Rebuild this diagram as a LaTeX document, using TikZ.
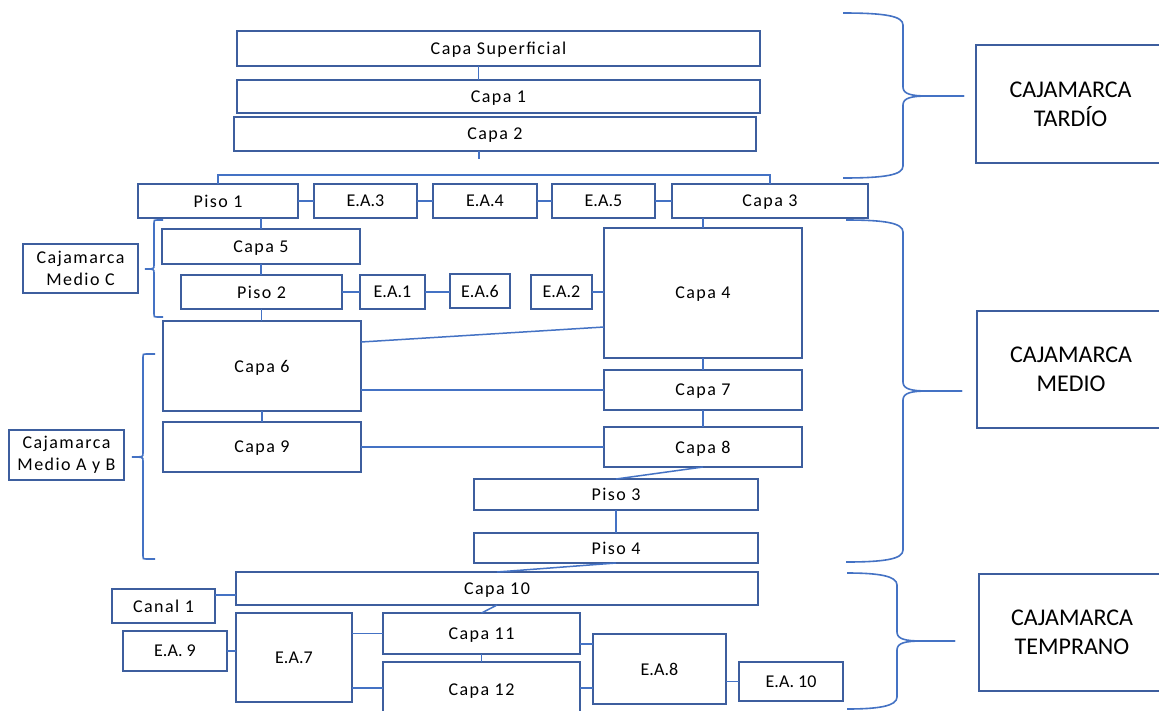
\documentclass[tikz,border=0pt]{standalone}
\usepackage{fontspec}
\setmainfont{Carlito}
\newfontfamily\spfont[LetterSpace=8]{Carlito}
\usetikzlibrary{calc}
\definecolor{bd}{HTML}{3D5E9E}
\definecolor{ln}{HTML}{4472C4}
\tikzset{
 box/.style={draw=bd, line width=1.6pt, inner sep=0pt, outer sep=0pt, align=center, font=\spfont\fontsize{18}{22}\selectfont, text=black},
 onebox/.style={box, text depth=0pt},
 eabox/.style={onebox, font=\fontsize{18}{22}\selectfont},
 bigbox/.style={box, font=\fontsize{24}{29}\selectfont},
 conn/.style={draw=ln, line width=1.5pt},
 brc/.style={draw=ln, line width=1.6pt},
}
% box: [style]{name}{x1}{y1}{x2}{y2}{text}
\newcommand\bx[7][onebox]{\node[#1,minimum width={#5-#3},minimum height={#6-#4}] (#2) at ({(#3+#5)/2},{(#4+#6)/2}) {#7};}
% right brace: xend xvert xtip ytop ymid ybot
\newcommand\rbr[6]{%
\draw[brc] (#1,#4) .. controls ({#2-18},#4) and (#2,{#4+3}) .. (#2,{#4+12}) -- (#2,{#5-9}) .. controls (#2,{#5-2}) and ({#2+8},#5) .. ({#2+25},#5) -- (#3,#5);
\draw[brc] (#3,#5) -- ({#2+25},#5) .. controls ({#2+8},#5) and (#2,{#5+2}) .. (#2,{#5+9}) -- (#2,{#6-12}) .. controls (#2,{#6-3}) and ({#2-18},#6) .. (#1,#6);}
% left bracket: xend xvert xtip ytop ymid ybot
\newcommand\lbr[6]{%
\draw[brc] (#1,#4) -- ({#2+3},#4) .. controls (#2,#4) .. (#2,{#4+3}) -- (#2,{#5-4}) .. controls (#2,#5) .. (#3,#5) .. controls (#2,#5) .. (#2,{#5+4}) -- (#2,{#6-3}) .. controls (#2,#6) .. ({#2+3},#6) -- (#1,#6);}
\begin{document}
\begin{tikzpicture}[x=1pt,y=-1pt]
\useasboundingbox (0,0) rectangle (1159,710);
\fill[white] (0,0) rectangle (1159,710);
\clip (0,0) rectangle (1159,710);
% boxes
\bx{sup}{237}{31}{760}{66}{Capa Superficial}
\bx{c1}{237}{80}{760}{113}{Capa 1}
\bx{c2}{234}{117}{756}{151}{Capa 2}
\bx{piso1}{138}{184}{298}{218}{Piso 1}
\bx[eabox]{ea3}{314}{184}{417}{218}{E.A.3}
\bx[eabox]{ea4}{433}{184}{537}{218}{E.A.4}
\bx[eabox]{ea5}{552}{184}{655}{218}{E.A.5}
\bx{capa3}{672}{184}{868}{218}{Capa 3}
\bx{capa5}{162}{229}{360}{264}{Capa 5}
\bx{piso2}{181}{275}{342}{309}{Piso 2}
\bx[eabox]{ea1}{360}{275}{425}{309}{E.A.1}
\bx[eabox]{ea6}{450}{274}{510}{308}{E.A.6}
\bx[eabox]{ea2}{531}{275}{592}{309}{E.A.2}
\bx{capa4}{604}{228}{802}{358}{Capa 4}
\bx{capa6}{163}{321}{361}{411}{Capa 6}
\bx{capa7}{604}{370}{802}{410}{Capa 7}
\bx{capa9}{163}{422}{361}{472}{Capa 9}
\bx{capa8}{604}{427}{802}{467}{Capa 8}
\bx{piso3}{474}{479}{758}{510}{Piso 3}
\bx{piso4}{474}{533}{758}{563}{Piso 4}
\bx{capa10}{236}{572}{758}{605}{Capa 10}
\bx{canal1}{112}{589}{215}{623}{Canal 1}
\bx[eabox]{ea9}{123}{631}{227}{671}{E.A. 9}
\bx[eabox]{ea7}{236}{613}{352}{702}{E.A.7}
\bx{capa11}{383}{613}{580}{654}{Capa 11}
\bx{capa12}{383}{662}{580}{718}{Capa 12}
\bx[eabox]{ea8}{593}{634}{726}{704}{E.A.8}
\bx[eabox]{ea10}{739}{662}{843}{701}{E.A. 10}
\bx[box]{medc}{23}{244}{138}{293}{Cajamarca\\Medio C}
\bx[box]{medab}{9}{430}{124}{480}{Cajamarca\\Medio A y B}
\bx[bigbox]{tardio}{976}{45}{1165}{163}{CAJAMARCA\\TARDÍO}
\bx[bigbox]{medio}{977}{311}{1165}{428}{CAJAMARCA\\MEDIO}
\bx[bigbox]{temprano}{979}{574}{1165}{691}{CAJAMARCA\\TEMPRANO}
% connectors
\coordinate (stub) at (479,159);
\coordinate (bus) at (0,175);
\draw[conn] ($(sup.south)+(-20,0)$) -- ($(c1.north)+(-20,0)$);
\draw[conn] (c2.south -| stub) -- (stub);
\draw[conn] (piso1.north) -- (piso1.north |- bus) -- (capa3.north |- bus) -- (capa3.north);
\draw[conn] (piso1.east) -- (ea3.west);
\draw[conn] (ea3.east) -- (ea4.west);
\draw[conn] (ea4.east) -- (ea5.west);
\draw[conn] (ea5.east) -- (capa3.west);
\draw[conn] (capa5.north) -- (capa5.north |- piso1.south);
\draw[conn] (capa4.north) -- (capa4.north |- capa3.south);
\draw[conn] (capa5.south) -- (capa5.south |- piso2.north);
\draw[conn] (piso2.south) -- (piso2.south |- capa6.north);
\draw[conn] (piso2.east) -- (piso2.east -| ea1.west);
\draw[conn] (ea1.east) -- (ea1.east -| ea6.west);
\draw[conn] (ea2.east) -- (ea2.east -| capa4.west);
\draw[conn] (capa6.east |- 0,342) -- (capa4.west |- 0,327);
\draw[conn] (capa7.west) -- (capa7.west -| capa6.east);
\draw[conn] (capa4.south) -- (capa7.north);
\draw[conn] (capa6.south) -- (capa9.north);
\draw[conn] (capa9.east) -- (capa9.east -| capa8.west);
\draw[conn] (capa7.south) -- (capa8.north);
\draw[conn] (capa8.south) -- (piso3.north);
\draw[conn] (piso3.south) -- (piso4.north);
\draw[conn] (piso4.south) -- (capa10.north);
\draw[conn] (canal1.east |- 0,595) -- (capa10.west |- 0,595);
\draw[conn] (capa10.south) -- (capa11.north);
\draw[conn] (ea9.east) -- (ea9.east -| ea7.west);
\draw[conn] (capa11.west) -- (capa11.west -| ea7.east);
\draw[conn] (ea7.east |- 0,688) -- (capa12.west |- 0,688);
\draw[conn] (capa11.south) -- (capa12.north);
\draw[conn] (capa11.east |- 0,644) -- (ea8.west |- 0,644);
\draw[conn] (capa12.east |- 0,688) -- (ea8.west |- 0,688);
\draw[conn] (ea8.east |- ea10.west) -- (ea10.west);
% braces
\lbr{163}{154}{145}{220}{269}{317}
\lbr{155}{143}{132}{354}{457}{559}
\rbr{843}{903}{964}{13}{96}{178}
\rbr{846}{903}{962}{220}{391}{562}
\rbr{847}{897}{955}{573}{641}{709}
\end{tikzpicture}
\end{document}
